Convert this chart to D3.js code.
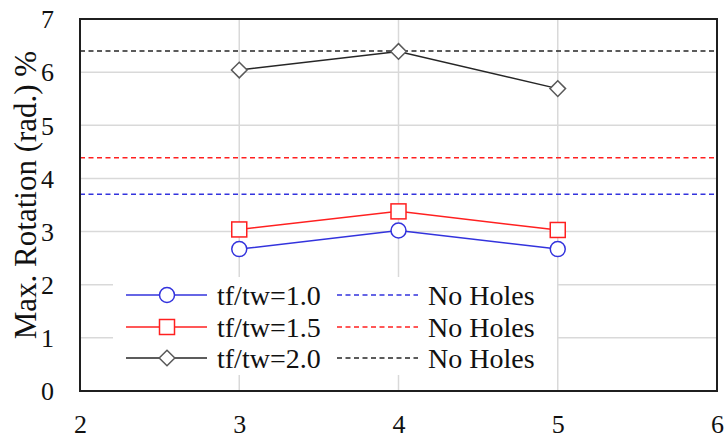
<!DOCTYPE html>
<html>
<head>
<meta charset="utf-8">
<script src="https://cdn.jsdelivr.net/npm/d3@7"></script>
<style>
  html, body { margin: 0; padding: 0; background: #fff; }
</style>
</head>
<body>
<svg id="chart" width="724" height="439"></svg>
<script>
// Flange-to-web thickness ratio series: max rotation vs. x position
const xValues = [3, 4, 5];
const seriesNames = ["tf/tw=1.0", "tf/tw=1.5", "tf/tw=2.0"];
const rotation10 = [2.67, 3.02, 2.67];
const rotation15 = [3.04, 3.38, 3.03];
const rotation20 = [6.04, 6.39, 5.69];
// Reference levels for the same ratios without holes
const noHoles = [3.70, 4.39, 6.40];
const noHolesLabel = "No Holes";
const xTicks = [2, 3, 4, 5, 6];
const yTicks = [0, 1, 2, 3, 4, 5, 6, 7];
const yTitle = "Max. Rotation (rad.) %";

const FONT = "'Liberation Serif', 'Times New Roman', Tinos, serif";
const colors = ["#3333dd", "#ff2020", "#262626"];
const markerStroke = ["#3333dd", "#ff2020", "#595959"];
const markerShapes = ["circle", "square", "diamond"];

const svg = d3.select("#chart");
const plot = { left: 80, right: 717, top: 19, bottom: 391 };

const x = d3.scaleLinear().domain([2, 6]).range([plot.left, plot.right]);
const y = d3.scaleLinear().domain([0, 7]).range([plot.bottom, plot.top]);

// Gridlines
const grid = svg.append("g");
grid.selectAll("line.h").data(yTicks.slice(1, -1)).join("line")
  .attr("x1", plot.left).attr("x2", plot.right)
  .attr("y1", d => y(d)).attr("y2", d => y(d))
  .attr("stroke", "#d9d9d9").attr("stroke-width", 1.5);
grid.selectAll("line.v").data(xTicks.slice(1, -1)).join("line")
  .attr("y1", plot.top).attr("y2", plot.bottom)
  .attr("x1", d => x(d)).attr("x2", d => x(d))
  .attr("stroke", "#d9d9d9").attr("stroke-width", 1.5);

// Axes (labels only, ticks hidden)
const xAxis = d3.axisBottom(x).tickValues(xTicks).tickSize(0).tickPadding(0).tickFormat(d3.format("d"));
const yAxis = d3.axisLeft(y).tickValues(yTicks).tickSize(0).tickPadding(0).tickFormat(d3.format("d"));

const gx = svg.append("g").attr("transform", `translate(0,${plot.bottom})`).call(xAxis);
gx.attr("font-family", null).attr("font-size", null);
gx.select(".domain").remove();
gx.selectAll("text").style("font-family", FONT).attr("font-size", 26).attr("fill", "#111")
  .attr("dy", null).attr("y", 42);

const gy = svg.append("g").attr("transform", `translate(${plot.left},0)`).call(yAxis);
gy.attr("font-family", null).attr("font-size", null);
gy.select(".domain").remove();
gy.selectAll("text").style("font-family", FONT).attr("font-size", 26).attr("fill", "#111")
  .attr("x", -26).attr("dy", "0.34em");

// Y title
svg.append("text")
  .attr("transform", "translate(36,195) rotate(-90)")
  .attr("text-anchor", "middle")
  .style("font-family", FONT)
  .attr("font-size", 31).attr("fill", "#111")
  .text(yTitle);

// Reference dashed lines
svg.append("g").selectAll("line").data(noHoles).join("line")
  .attr("x1", plot.left).attr("x2", plot.right)
  .attr("y1", d => y(d)).attr("y2", d => y(d))
  .attr("stroke", (d, i) => colors[i]).attr("stroke-width", 1.5)
  .attr("stroke-dasharray", "5,3.5");

// Series lines and markers
const allSeries = [rotation10, rotation15, rotation20];
const line = d3.line().x(d => x(d[0])).y(d => y(d[1]));

function drawMarker(g, shape, cx, cy, i) {
  const s = markerStroke[i];
  if (shape === "circle") {
    g.append("circle").attr("cx", cx).attr("cy", cy).attr("r", 7.5)
      .attr("fill", "#fff").attr("stroke", s).attr("stroke-width", 1.5);
  } else if (shape === "square") {
    g.append("rect").attr("x", cx - 7.5).attr("y", cy - 7.5).attr("width", 15).attr("height", 15)
      .attr("fill", "#fff").attr("stroke", s).attr("stroke-width", 1.5);
  } else {
    const r = 7.8;
    g.append("path").attr("d", `M${cx},${cy - r}L${cx + r},${cy}L${cx},${cy + r}L${cx - r},${cy}Z`)
      .attr("fill", "#fff").attr("stroke", s).attr("stroke-width", 1.5);
  }
}

allSeries.forEach((vals, i) => {
  const pts = xValues.map((xv, k) => [xv, vals[k]]);
  const g = svg.append("g");
  g.append("path").attr("d", line(pts)).attr("fill", "none")
    .attr("stroke", colors[i]).attr("stroke-width", 1.5);
  pts.forEach(p => drawMarker(g, markerShapes[i], x(p[0]), y(p[1]), i));
});

// Plot border
svg.append("rect")
  .attr("x", plot.left).attr("y", plot.top)
  .attr("width", plot.right - plot.left).attr("height", plot.bottom - plot.top)
  .attr("fill", "none").attr("stroke", "#1f1f1f").attr("stroke-width", 2);

// Legend
const legend = svg.append("g");
legend.append("rect").attr("x", 113).attr("y", 277).attr("width", 444).attr("height", 98).attr("fill", "#fff");
const rowY = [295, 327, 358];
seriesNames.forEach((name, i) => {
  const ly = rowY[i];
  legend.append("line").attr("x1", 126).attr("x2", 207).attr("y1", ly).attr("y2", ly)
    .attr("stroke", colors[i]).attr("stroke-width", 1.5);
  drawMarker(legend, markerShapes[i], 167, ly, i);
  legend.append("text").attr("x", 217).attr("y", ly).attr("dy", "0.35em")
    .style("font-family", FONT)
    .attr("font-size", 28).attr("fill", "#111").text(name);
  legend.append("line").attr("x1", 337).attr("x2", 418).attr("y1", ly).attr("y2", ly)
    .attr("stroke", colors[i]).attr("stroke-width", 1.5).attr("stroke-dasharray", "5,3.5");
  legend.append("text").attr("x", 428).attr("y", ly).attr("dy", "0.35em")
    .style("font-family", FONT)
    .attr("font-size", 28).attr("fill", "#111").text(noHolesLabel);
});
</script>
</body>
</html>
